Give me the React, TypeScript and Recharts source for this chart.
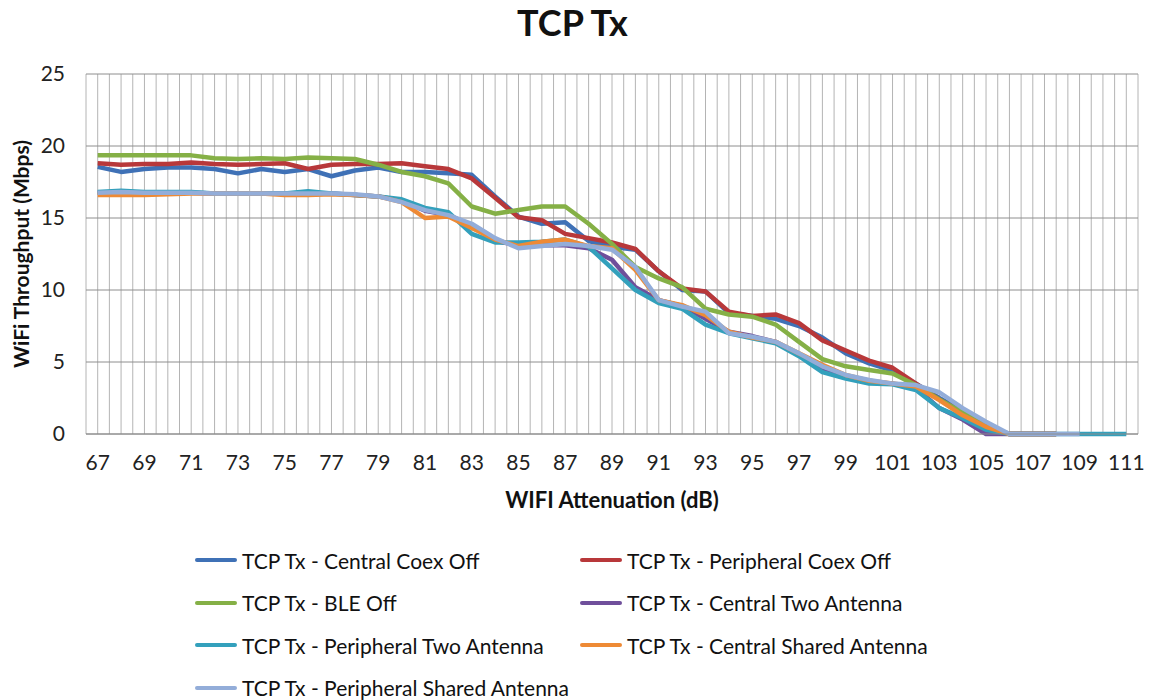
import React from 'react';
import { LineChart, Line, XAxis, YAxis, CartesianGrid, Label } from 'recharts';

// WiFi attenuation (dB), one point per dB
const attenuation = [
  67, 68, 69, 70, 71, 72, 73, 74, 75, 76, 77, 78, 79, 80, 81, 82, 83, 84, 85, 86, 87, 88, 89,
  90, 91, 92, 93, 94, 95, 96, 97, 98, 99, 100, 101, 102, 103, 104, 105, 106, 107, 108, 109, 110, 111,
];

// throughput in Mbps, null = no measurement
const centralCoexOff = [
  18.55, 18.2, 18.4, 18.5, 18.5, 18.4, 18.1, 18.4, 18.2, 18.4, 17.9, 18.3, 18.5, 18.2, 18.2, 18.1, 18.0,
  16.5, 15.1, 14.6, 14.7, 13.4, 13.0, 12.8, 11.3, 10.0, 9.9, 8.4, 8.2, 8.0, 7.5, 6.7, 5.6, 4.9, 4.4,
  3.5, 2.5, 1.6, 0.6, 0, 0, 0, null, null, null,
];
const peripheralCoexOff = [
  18.8, 18.7, 18.75, 18.75, 18.85, 18.75, 18.7, 18.75, 18.8, 18.4, 18.7, 18.75, 18.75, 18.8, 18.6, 18.4,
  17.75, 16.4, 15.05, 14.85, 13.9, 13.6, 13.3, 12.85, 11.3, 10.1, 9.9, 8.5, 8.2, 8.3, 7.7, 6.5, 5.8, 5.1,
  4.6, 3.5, 2.4, 1.5, 0.5, 0, 0, 0, null, null, null,
];
const bleOff = [
  19.35, 19.35, 19.35, 19.35, 19.35, 19.15, 19.1, 19.15, 19.1, 19.2, 19.15, 19.1, 18.7, 18.2, 17.9, 17.4,
  15.8, 15.3, 15.55, 15.8, 15.8, 14.6, 13.2, 11.6, 10.8, 10.2, 8.7, 8.3, 8.15, 7.6, 6.4, 5.2, 4.7, 4.45,
  4.2, 3.4, 2.4, 1.5, 0.5, 0, 0, 0, null, null, null,
];
const centralTwoAntenna = [
  16.75, 16.8, 16.75, 16.75, 16.75, 16.7, 16.7, 16.7, 16.7, 16.7, 16.7, 16.6, 16.5, 16.2, 15.5, 15.2,
  14.5, 13.4, 13.1, 13.1, 13.1, 12.9, 12.1, 10.2, 9.3, 8.9, 8.0, 7.1, 6.8, 6.4, 5.5, 4.4, 3.9, 3.6, 3.5,
  3.2, 1.8, 1.0, 0, 0, 0, 0, null, null, null,
];
const peripheralTwoAntenna = [
  16.8, 16.9, 16.8, 16.8, 16.8, 16.7, 16.7, 16.7, 16.7, 16.85, 16.7, 16.6, 16.5, 16.3, 15.7, 15.4, 13.9,
  13.3, 13.3, 13.35, 13.5, 13.0, 11.5, 10.0, 9.1, 8.7, 7.6, 7.0, 6.65, 6.3, 5.4, 4.3, 3.85, 3.5, 3.45,
  3.05, 1.8, 1.1, 0.3, 0, 0, 0, 0, 0, 0,
];
const centralSharedAntenna = [
  16.6, 16.6, 16.6, 16.65, 16.7, 16.7, 16.7, 16.7, 16.6, 16.6, 16.65, 16.6, 16.5, 16.1, 15.0, 15.1, 14.3,
  13.5, 13.05, 13.35, 13.5, 13.05, 12.9, 11.4, 9.3, 8.95, 8.25, 7.1, 6.7, 6.4, 5.6, 4.8, 4.1, 3.7, 3.5,
  3.3, 2.35, 1.3, 0.5, 0, 0, 0, null, null, null,
];
const peripheralSharedAntenna = [
  16.75, 16.8, 16.75, 16.75, 16.75, 16.7, 16.7, 16.7, 16.7, 16.7, 16.7, 16.65, 16.5, 16.1, 15.55, 15.2,
  14.6, 13.6, 12.9, 13.05, 13.2, 13.05, 12.8, 11.6, 9.3, 8.85, 8.5, 7.0, 6.75, 6.4, 5.6, 4.7, 4.1, 3.75,
  3.5, 3.4, 2.9, 1.8, 0.85, 0, 0, 0, 0, null, null,
];

const xTickLabels = [67, 69, 71, 73, 75, 77, 79, 81, 83, 85, 87, 89, 91, 93, 95, 97, 99, 101, 103, 105, 107, 109, 111];
const yTicks = [0, 5, 10, 15, 20, 25];

const series = [
  { key: 'centralCoexOff', name: 'TCP Tx - Central Coex Off', color: '#3F71B6', values: centralCoexOff },
  { key: 'peripheralCoexOff', name: 'TCP Tx - Peripheral Coex Off', color: '#B8383A', values: peripheralCoexOff },
  { key: 'bleOff', name: 'TCP Tx - BLE Off', color: '#85B046', values: bleOff },
  { key: 'centralTwoAntenna', name: 'TCP Tx - Central Two Antenna', color: '#6F4F9B', values: centralTwoAntenna },
  { key: 'peripheralTwoAntenna', name: 'TCP Tx - Peripheral Two Antenna', color: '#33A0BC', values: peripheralTwoAntenna },
  { key: 'centralSharedAntenna', name: 'TCP Tx - Central Shared Antenna', color: '#EE8A35', values: centralSharedAntenna },
  { key: 'peripheralSharedAntenna', name: 'TCP Tx - Peripheral Shared Antenna', color: '#93ADD9', values: peripheralSharedAntenna },
];

const data = attenuation.map((x, i) => {
  const row: Record<string, number | null> = { x };
  series.forEach((s) => {
    row[s.key] = s.values[i] ?? null;
  });
  return row;
});

// Excel draws a vertical gridline at every category centre and boundary
const gridTicks: number[] = [];
for (let v = 66.5; v <= 111.5; v += 0.5) gridTicks.push(v);

const FONT = 'Lato, "Open Sans", sans-serif';

export default function App() {
  return (
    <div style={{ position: 'absolute', left: 0, top: 0, width: 1150, height: 700, background: '#fff', fontFamily: FONT }}>
      <div
        style={{
          position: 'absolute',
          top: 0,
          left: 0,
          width: 1145,
          textAlign: 'center',
          fontSize: 36,
          fontWeight: 700,
          color: '#111',
        }}
      >
        TCP Tx
      </div>

      <LineChart width={1150} height={700} data={data} margin={{ top: 74, right: 12, bottom: 236, left: 30 }}>
        <CartesianGrid stroke="#B4B4B4" strokeWidth={1} horizontal={false} />
        <CartesianGrid stroke="#8E8E8E" strokeWidth={1} vertical={false} />
        <XAxis
          dataKey="x"
          type="number"
          domain={[66.5, 111.5]}
          ticks={gridTicks}
          interval={0}
          tickFormatter={(v: number) => (xTickLabels.includes(v) ? String(v) : '')}
          tickLine={false}
          axisLine={{ stroke: '#8C8C8C' }}
          tick={{ fill: '#222', fontSize: 21, fontFamily: FONT }}
          tickMargin={15}
          height={30}
        >
          <Label
            value="WIFI Attenuation (dB)"
            position="bottom"
            offset={28}
            style={{ fontWeight: 700, fontSize: 22, fill: '#111', fontFamily: FONT }}
          />
        </XAxis>
        <YAxis
          type="number"
          domain={[0, 25]}
          ticks={yTicks}
          tickLine={false}
          axisLine={false}
          tick={{ fill: '#222', fontSize: 21, fontFamily: FONT }}
          tickMargin={15}
          width={56}
        >
          <Label
            value="WiFi Throughput (Mbps)"
            angle={-90}
            position="insideLeft"
            offset={-8}
            style={{ fontWeight: 700, fontSize: 21, fill: '#111', fontFamily: FONT, textAnchor: 'middle' }}
          />
        </YAxis>
        {series.map((s) => (
          <Line
            key={s.key}
            dataKey={s.key}
            name={s.name}
            stroke={s.color}
            strokeWidth={4.5}
            strokeLinejoin="round"
            dot={false}
            activeDot={false}
            type="linear"
            isAnimationActive={false}
          />
        ))}
      </LineChart>

      <div
        style={{
          position: 'absolute',
          top: 547,
          left: 195,
          display: 'grid',
          gridTemplateColumns: '385px 400px',
          rowGap: 16.5,
          fontSize: 21,
          color: '#111',
        }}
      >
        {series.map((s) => (
          <div key={s.key} style={{ display: 'flex', alignItems: 'center', height: 26 }}>
            <span style={{ display: 'inline-block', width: 42, height: 4, background: s.color, borderRadius: 2, marginRight: 5 }} />
            <span style={{ whiteSpace: 'nowrap' }}>{s.name}</span>
          </div>
        ))}
      </div>
    </div>
  );
}
